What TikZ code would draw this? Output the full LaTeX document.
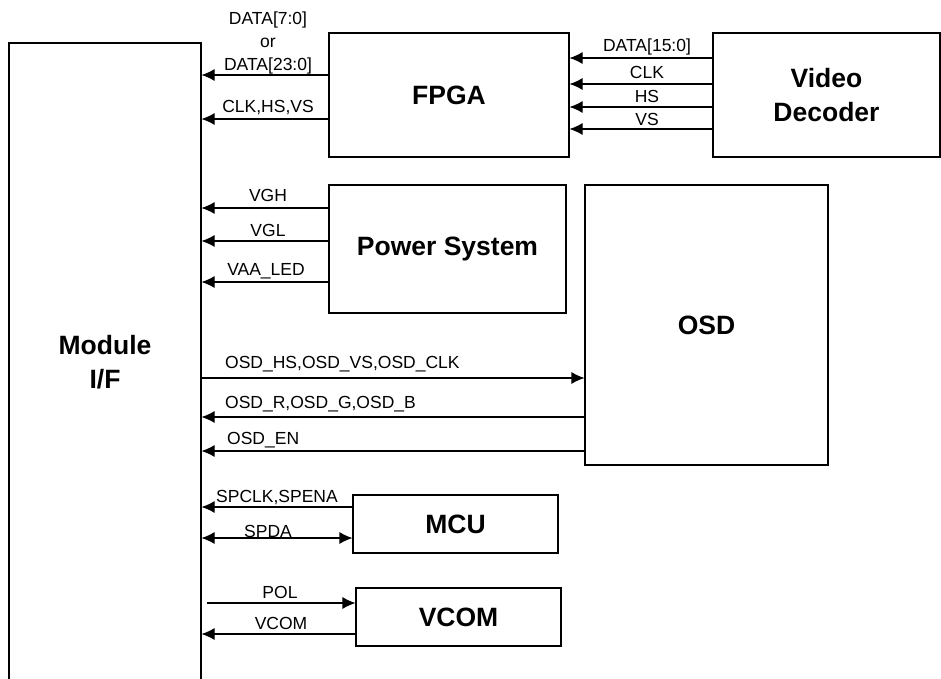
\documentclass[tikz,border=0pt]{standalone}
\usepackage{fontspec}
\setmainfont{Liberation Sans}
\usetikzlibrary{arrows.meta,calc,positioning}

\begin{document}
\begin{tikzpicture}[x=1pt,y=-1pt,every node/.style={inner sep=0pt,font=\fontsize{17.5}{22}\selectfont},blk/.style={draw,line width=1.1pt,font=\bfseries\fontsize{26.5}{34}\selectfont,align=center},sig/.style={-{Latex[length=13pt,width=12pt]},line width=1.1pt},bisig/.style={{Latex[length=13pt,width=12pt]}-{Latex[length=13pt,width=12pt]},line width=1.1pt},lbl/.style={align=center}]
\useasboundingbox (0,0) rectangle (941,678);
\clip (0,0) rectangle (941,678);
\fill[white] (0,0) rectangle (941,678);

% blocks
\node[blk,minimum width=192pt,minimum height=638pt] (mif) at (105,362) {Module\\I/F};
\node[blk,minimum width=240pt,minimum height=124pt] (fpga) at (449,95) {FPGA};
\node[blk,minimum width=227pt,minimum height=124pt] (vdec) at (826.5,95) {Video\\Decoder};
\node[blk,minimum width=237pt,minimum height=128pt] (pwr) at (447.5,249) {Power System};
\node[blk,minimum width=243pt,minimum height=280pt] (osd) at (706.5,325) {OSD};
\node[blk,minimum width=205pt,minimum height=58pt] (mcu) at (455.5,524) {MCU};
\node[blk,minimum width=205pt,minimum height=58pt] (vcom) at (458.5,617) {VCOM};
\coordinate (polsrc) at (207,603);

% FPGA -> module
\draw[sig] (fpga.west|-0,75) -- (mif.east|-0,75);
\draw[sig] (fpga.west|-0,119) -- (mif.east|-0,119);
\node[lbl,font=\fontsize{17.5}{23}\selectfont] (ldata) at (268,43) {DATA[7:0]\\or\\DATA[23:0]};
\node[lbl] (lsync) at (268,108) {CLK,HS,VS};

% decoder -> FPGA
\draw[sig] (vdec.west|-0,58) -- (fpga.east|-0,58);
\draw[sig] (vdec.west|-0,84) -- (fpga.east|-0,84);
\draw[sig] (vdec.west|-0,107) -- (fpga.east|-0,107);
\draw[sig] (vdec.west|-0,129) -- (fpga.east|-0,129);
\node[lbl] (ldec) at (647,47) {DATA[15:0]};
\node[lbl] (lclk) at (647,72) {CLK};
\node[lbl] (lhs) at (647,96) {HS};
\node[lbl] (lvs) at (647,119) {VS};

% power
\draw[sig] (pwr.west|-0,208) -- (mif.east|-0,208);
\draw[sig] (pwr.west|-0,241) -- (mif.east|-0,241);
\draw[sig] (pwr.west|-0,282) -- (mif.east|-0,282);
\node[lbl] (lvgh) at (268,195) {VGH};
\node[lbl] (lvgl) at (268,230) {VGL};
\node[lbl] (lvaa) at (266,271) {VAA\_LED};

% OSD
\draw[sig] (mif.east|-0,378) -- (osd.west|-0,378);
\draw[sig] (osd.west|-0,417) -- (mif.east|-0,417);
\draw[sig] (osd.west|-0,451) -- (mif.east|-0,451);
\node[lbl,anchor=west] (losdin) at (225,364) {OSD\_HS,OSD\_VS,OSD\_CLK};
\node[lbl,anchor=west] (lrgb) at (225,404) {OSD\_R,OSD\_G,OSD\_B};
\node[lbl,anchor=west] (len) at (227,440) {OSD\_EN};

% MCU
\draw[sig] (mcu.west|-0,507) -- (mif.east|-0,507);
\draw[bisig] (mif.east|-0,538) -- (mcu.west|-0,538);
\node[lbl,anchor=west] (lsp) at (216,497) {SPCLK,SPENA};
\node[lbl] (lspda) at (268,531) {SPDA};

% VCOM
\draw[sig] (polsrc) -- (vcom.west|-polsrc);
\draw[sig] (vcom.west|-0,634) -- (mif.east|-0,634);
\node[lbl] (lpol) at (280,592) {POL};
\node[lbl] (lvcom) at (281,623) {VCOM};

\end{tikzpicture}
\end{document}
